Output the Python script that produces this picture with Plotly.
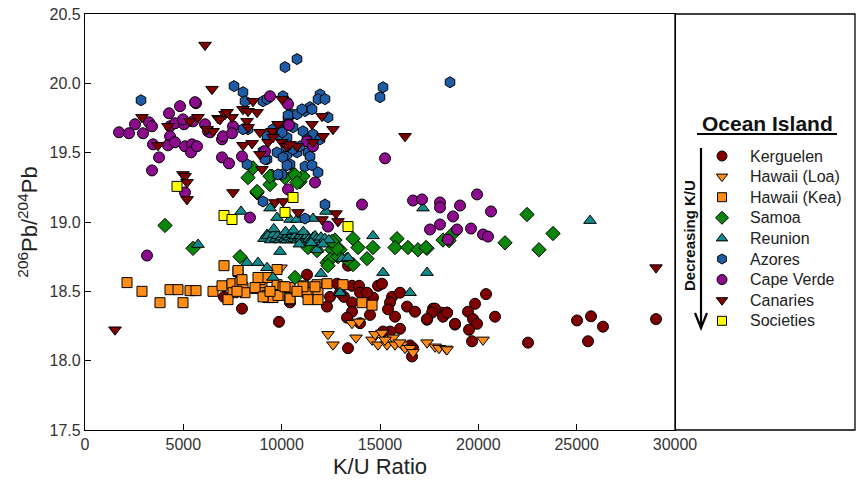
import plotly.graph_objects as go

# ---------------- data (K/U ratio, 206Pb/204Pb) ----------------
kerguelen_x = [7983, 9865, 7068, 10424, 11289, 12306, 12814, 13577, 13933, 14899, 15102, 13170, 13577, 14340,
               14645, 13577, 13323, 13984, 14492, 15611, 16018, 15509, 15408, 15764, 16374, 16781, 17391, 17696,
               18153, 18408, 18815, 16018, 15509, 15153, 13374, 16526, 16628, 16679, 20391, 19832, 19476, 17798,
               17645, 17391, 18204, 18408, 18815, 19730, 19933, 19526, 19679, 20849, 22527, 25018, 25729, 26339,
               25578, 29035, 12458, 12967, 13984, 14340, 13374]
kerguelen_y = [18.375, 18.28, 18.46, 18.42, 18.62, 18.39, 18.555, 18.54, 18.54, 18.54, 18.555, 18.46, 18.42, 18.476,
               18.455, 18.353, 18.31, 18.27, 18.33, 18.46, 18.49, 18.42, 18.37, 18.317, 18.39, 18.353, 18.295, 18.375,
               18.346, 18.346, 18.26, 18.23, 18.21, 18.21, 18.09, 18.11, 18.03, 18.09, 18.48, 18.41, 18.353, 18.375,
               18.346, 18.30, 18.317, 18.346, 18.266, 18.30, 18.266, 18.223, 18.14, 18.317, 18.13, 18.29, 18.32, 18.245,
               18.14, 18.30, 18.46, 18.49, 18.49, 18.49, 18.685]

loa_x = [12357, 12611, 13780, 13577, 13933, 14594, 14747, 14899, 15102, 15357, 15662, 15764, 16119, 16272, 16526,
         16679, 17391, 17798, 18001, 18357, 18408, 20238, 9967, 15250, 16000]
loa_y = [18.19, 18.115, 18.165, 18.27, 18.28, 18.15, 18.19, 18.115, 18.2, 18.115, 18.165, 18.115, 18.115, 18.09, 18.09,
         18.06, 18.13, 18.10, 18.09, 18.085, 18.08, 18.15, 18.67, 18.15, 18.13]

kea_x = [2136, 2898, 3814, 4322, 4729, 5339, 5644, 4983, 6509, 6966, 7475, 7526, 7271, 7882, 8034, 8136, 7729, 8695,
         9000, 9153, 9306, 9916, 9763, 10068, 10424, 10424, 11136, 11289, 11340, 11797, 11848, 12306, 13119, 14085,
         14594, 9763, 8899, 9255, 7780, 7068, 7780, 7983, 8797, 8645, 9255, 9560, 9814, 9051, 10170, 10424, 11085,
         11695, 11848, 9407, 10780]
kea_y = [18.563, 18.5, 18.418, 18.512, 18.512, 18.505, 18.505, 18.418, 18.5, 18.54, 18.555, 18.49, 18.44, 18.563,
         18.527, 18.49, 18.5, 18.52, 18.548, 18.49, 18.455, 18.47, 18.548, 18.533, 18.527, 18.44, 18.54, 18.49, 18.44,
         18.548, 18.49, 18.555, 18.548, 18.418, 18.40, 18.657, 18.584, 18.6, 18.643, 18.685, 18.65, 18.584, 18.6,
         18.527, 18.47, 18.455, 18.47, 18.46, 18.533, 18.447, 18.533, 18.533, 18.44, 18.5, 18.5]

samoa_x = [4068, 5492, 7882, 8289, 8746, 9509, 9407, 8543, 9407, 10577, 10933, 11085, 10170, 10678, 10780, 8746,
           12713, 12560, 12967, 12306, 12458, 11340, 13628, 13882, 14645, 14340, 13628, 12865, 10678, 15865, 15764,
           16425, 16933, 17391, 18204, 11797, 12814, 12357, 13323, 22476, 23798, 21357, 18509, 18662, 23086, 17340,
           12560]
samoa_y = [18.975, 18.81, 18.75, 19.32, 19.21, 19.33, 19.27, 19.39, 19.33, 19.34, 19.29, 19.33, 19.32, 19.34, 19.285,
           19.22, 18.87, 18.8, 18.8, 18.707, 18.73, 18.816, 18.88, 18.816, 18.816, 18.736, 18.693, 18.75, 18.6, 18.88,
           18.816, 18.816, 18.8, 18.81, 18.87, 18.794, 18.81, 18.685, 18.73, 19.054, 18.917, 18.85, 18.866, 18.91,
           18.8, 18.816, 18.86]

reunion_x = [5746, 7933, 8238, 8797, 9255, 9560, 9407, 12255, 17187, 14645, 9916, 11797, 13069, 13374, 15153, 17391,
             16526, 12967, 11594, 10424, 25679, 12001, 9763, 10780, 9255, 9509,
             9100, 9300, 9450, 9600, 9700, 9800, 9900, 10000, 10100, 10150, 10250, 10300, 10400, 10500, 10550, 10650,
             10700, 10800, 10850, 10950, 11000, 11100, 11200, 11300, 11400, 11500, 11600, 11700, 11800, 11900, 12000,
             12200, 12400, 10200, 10600, 11100, 9600, 10900, 11500, 12100]
reunion_y = [18.837, 19.076, 18.707, 18.707, 18.67, 18.6, 19.1, 19.076, 19.1, 18.9, 18.787, 18.8, 18.736, 18.743,
             18.635, 18.635, 18.49, 18.49, 19.025, 19.018, 19.01, 18.628, 19.032, 19.018, 18.91, 18.924,
             18.88, 18.9, 18.87, 18.91, 18.88, 18.9, 18.87, 18.89, 18.91, 18.88, 18.87, 18.9, 18.89, 18.87, 18.91,
             18.88, 18.9, 18.87, 18.89, 18.9, 18.88, 18.87, 18.89, 18.9, 18.88, 18.87, 18.89, 18.9, 18.88, 18.87,
             18.89, 18.88, 18.87, 18.93, 18.94, 18.93, 18.95, 18.84, 18.85, 18.84]

azores_x = [2848, 10170, 10780, 15153, 15000, 18560, 7577, 8034, 8136, 9051, 9255, 10068, 10272, 11950, 11848, 12204,
            11441, 11187, 10526, 10780, 10323, 12357, 10068, 9560, 10577, 11085, 11594, 8289, 8034, 9916, 10272, 9255,
            9763, 10272, 10780, 11340, 11441, 9051, 9255, 10424, 11187, 10068, 10933, 11289, 11950, 11034, 11543,
            10017, 10323, 10577, 10221, 8238, 9153, 10272, 11543, 11848, 10017, 9051, 12204, 11187, 9814]
azores_y = [19.878, 20.117, 20.175, 19.972, 19.9, 20.008, 19.98, 19.936, 19.871, 19.871, 19.886, 19.907, 19.864,
            19.92, 19.886, 19.886, 19.828, 19.8, 19.777, 19.777, 19.74, 19.755, 19.683, 19.669, 19.683, 19.654, 19.632,
            19.669, 19.669, 19.618, 19.61, 19.618, 19.502, 19.488, 19.502, 19.502, 19.473, 19.51, 19.452, 19.416,
            19.401, 19.466, 19.546, 19.596, 19.596, 19.813, 19.813, 19.647, 19.77, 19.524, 19.546, 19.416, 19.452,
            19.409, 19.409, 19.358, 19.343, 19.148, 19.126, 19.025, 19.343]

capeverde_x = [1729, 2237, 2949, 3458, 3763, 3407, 2543, 3254, 3407, 4271, 4831, 5644, 4322, 4577, 5034, 5492, 4322,
               4221, 4577, 5085, 5441, 5390, 5695, 6255, 6966, 7017, 7526, 7475, 6966, 7322, 7983, 9407, 5593, 4983,
               6102, 6356, 10323, 11289, 10323, 10373, 11594, 9153, 15255, 5085, 8390, 3153, 11695, 10323, 14085,
               12357, 16679, 17136, 18051, 18051, 17543, 18051, 18459, 19069, 19933, 20645, 18713, 18916, 19628,
               20238, 20492]
capeverde_y = [19.647, 19.64, 19.64, 19.56, 19.466, 19.372, 19.705, 19.719, 19.69, 19.784, 19.835, 19.857, 19.69,
               19.712, 19.705, 19.726, 19.618, 19.553, 19.575, 19.546, 19.56, 19.502, 19.546, 19.654, 19.596, 19.618,
               19.69, 19.64, 19.466, 19.423, 19.473, 19.907, 19.864, 19.74, 19.705, 19.647, 19.705, 19.582, 19.85,
               19.698, 19.546, 19.51, 19.459, 19.213, 19.032, 18.758, 19.285, 19.235, 19.126, 18.967, 19.155, 19.163,
               19.141, 19.105, 18.946, 18.982, 18.873, 19.119, 19.199, 19.076, 19.04, 18.946, 18.953, 18.91, 18.895]

canaries_x = [6102, 6458, 2898, 4221, 3712, 5339, 5746, 6204, 6509, 6763, 7119, 7475, 8034, 8289, 8238, 8543, 8899,
              8034, 8492, 9509, 9306, 8899, 4983, 10017, 6865, 7221, 8289, 9814, 9560, 10017, 10272, 10780, 11594,
              12052, 11543, 12611, 12103, 8746, 10424, 9000, 16272, 5085, 5187, 5187, 7526, 9662, 10068, 10831, 12052,
              12763, 12865, 1525, 29035]
canaries_y = [20.276, 19.958, 19.755, 19.69, 19.553, 19.726, 19.755, 19.669, 19.654, 19.748, 19.777, 19.755, 19.813,
              19.799, 19.726, 19.871, 19.647, 19.553, 19.567, 19.654, 19.575, 19.488, 19.343, 19.886, 19.74, 19.791,
              19.683, 19.705, 19.611, 19.575, 19.546, 19.546, 19.575, 19.763, 19.705, 19.669, 19.618, 19.791, 19.56,
              19.38, 19.618, 19.329, 19.286, 19.163, 19.213, 19.141, 19.148, 19.069, 19.018, 19.061, 19.004, 18.223,
              18.671]

societies_x = [4678, 7068, 7475, 10577, 10170, 13374]
societies_y = [19.257, 19.047, 19.018, 19.177, 19.069, 18.967]

series_names = ["Kerguelen", "Hawaii (Loa)", "Hawaii (Kea)", "Samoa", "Reunion", "Azores",
                "Cape Verde", "Canaries", "Societies"]
x_ticks = [0, 5000, 10000, 15000, 20000, 25000, 30000]
x_ticktext = ["0", "5000", "10000", "15000", "20000", "25000", "30000"]
y_ticks = [17.5, 18.0, 18.5, 19.0, 19.5, 20.0, 20.5]

# ---------------- styles ----------------
DARKRED = "#7E0000"
ORANGE = "#FF8C14"
styles = [
    ("circle", DARKRED, 11),
    ("triangle-down", ORANGE, 11),
    ("square", ORANGE, 10),
    ("diamond", "#0A870A", 11),
    ("triangle-up", "#108A8A", 11),
    ("hexagon", "#1F5CA6", 11),
    ("circle", "#8C0A8C", 11),
    ("triangle-down", DARKRED, 11),
    ("square", "#FFFF00", 10),
]
data = [(kerguelen_x, kerguelen_y), (loa_x, loa_y), (kea_x, kea_y), (samoa_x, samoa_y),
        (reunion_x, reunion_y), (azores_x, azores_y), (capeverde_x, capeverde_y),
        (canaries_x, canaries_y), (societies_x, societies_y)]

FONT = "Arial, 'Liberation Sans', sans-serif"
fig = go.Figure()
for name, (xs, ys), (sym, col, sz) in zip(series_names, data, styles):
    fig.add_trace(go.Scatter(x=xs, y=ys, mode="markers", name=name, showlegend=False,
                             marker=dict(symbol=sym, color=col, size=sz,
                                         line=dict(color="black", width=1)),
                             xaxis="x", yaxis="y"))

# ---------------- legend panel (x2/y2 in panel pixel units) ----------------
leg_x_marker = 722
leg_x_text = 748
leg_top = 156
leg_step = 20.6
for i, (name, (sym, col, sz)) in enumerate(zip(series_names, styles)):
    yy = leg_top + i * leg_step
    fig.add_trace(go.Scatter(x=[leg_x_marker], y=[yy], mode="markers", showlegend=False,
                             hoverinfo="skip",
                             marker=dict(symbol=sym, color=col, size=sz - 1,
                                         line=dict(color="black", width=1)),
                             xaxis="x2", yaxis="y2"))
    fig.add_annotation(x=leg_x_text, y=yy, xref="x2", yref="y2", text=name, showarrow=False,
                       xanchor="left", yanchor="middle", font=dict(family=FONT, size=16, color="#222"))

fig.add_annotation(x=767, y=123, xref="x2", yref="y2", text="<b>Ocean Island</b>", showarrow=False,
                   xanchor="center", yanchor="middle", font=dict(family=FONT, size=21, color="#111"))
fig.add_annotation(x=689, y=236, xref="x2", yref="y2", text="<b>Decreasing K/U</b>", showarrow=False,
                   textangle=-90, xanchor="center", yanchor="middle",
                   font=dict(family=FONT, size=15, color="#111"))

plot_w = 857 - 85 - 2
main_frac = 590 / plot_w
shapes = [
    dict(type="rect", xref="paper", yref="paper", x0=main_frac, x1=1, y0=0, y1=1,
         line=dict(color="black", width=1.3)),
    dict(type="line", xref="x2", yref="y2", x0=697, x1=837, y0=134, y1=134,
         line=dict(color="black", width=2)),
    dict(type="line", xref="x2", yref="y2", x0=701, x1=701, y0=148, y1=328,
         line=dict(color="black", width=2.2)),
    dict(type="path", xref="x2", yref="y2", path="M 695,313 L 701,328 L 707,313",
         line=dict(color="black", width=2.2)),
]

axis_common = dict(showgrid=False, zeroline=False, showline=True, mirror=True, linecolor="black",
                   linewidth=1.3, ticks="inside", ticklen=6, tickcolor="black", automargin=False,
                   tickfont=dict(family=FONT, size=16, color="#333"))
fig.update_layout(
    width=857, height=481,
    margin=dict(l=85, r=2, t=14, b=51, autoexpand=False),
    paper_bgcolor="white", plot_bgcolor="white",
    showlegend=False,
    shapes=shapes,
    xaxis=dict(domain=[0, main_frac], range=[0, 30000], tickvals=x_ticks, ticktext=x_ticktext, **axis_common,
               title=dict(text="K/U Ratio", font=dict(family=FONT, size=22, color="#222"), standoff=6)),
    yaxis=dict(range=[17.5, 20.5], tickvals=y_ticks, tickformat=".1f", **axis_common,
               title=dict(text="<sup>206</sup>Pb/<sup>204</sup>Pb",
                          font=dict(family=FONT, size=22, color="#222"), standoff=5)),
    xaxis2=dict(domain=[main_frac, 1], range=[675, 855], visible=False, anchor="y2", automargin=False),
    yaxis2=dict(domain=[0, 1], range=[430, 14], visible=False, anchor="x2", automargin=False),
)

fig.write_html("out.html")
